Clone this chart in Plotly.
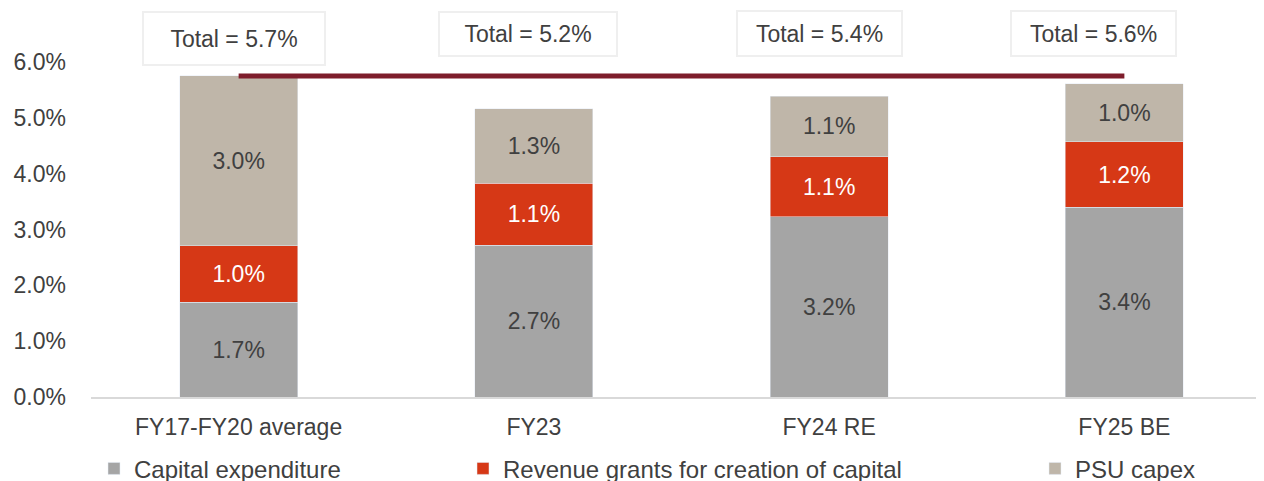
import plotly.graph_objects as go

categories = ["FY17-FY20 average", "FY23", "FY24 RE", "FY25 BE"]
capex = [1.70, 2.72, 3.23, 3.40]
revenue_grants = [1.01, 1.11, 1.07, 1.17]
psu_capex = [3.04, 1.33, 1.09, 1.04]
totals = ["5.7", "5.2", "5.4", "5.6"]
y_ticks = [0, 1, 2, 3, 4, 5, 6]

FONT = "Liberation Sans, Arial, sans-serif"
TEXT = "#404040"
FS = 23

fig = go.Figure()

series = [
    ("Capital expenditure", capex, "#A5A5A5", TEXT, "legend"),
    ("Revenue grants for creation of capital", revenue_grants, "#D63816", "white", "legend2"),
    ("PSU capex", psu_capex, "#BFB6A9", TEXT, "legend3"),
]
for name, vals, color, tcolor, leg in series:
    fig.add_trace(go.Bar(
        x=categories, y=vals, name=name, marker_color=color,
        texttemplate="%{y:.1f}%", textposition="inside", insidetextanchor="middle",
        textfont=dict(size=FS, color=tcolor, family=FONT),
        width=0.4, legend=leg,
    ))

# reference line at first period's total
first_total = capex[0] + revenue_grants[0] + psu_capex[0]
fig.add_shape(type="line", xref="x", yref="y", x0=0, x1=3,
              y0=first_total, y1=first_total,
              line=dict(color="#7E1D2B", width=5), layer="above")

# total boxes: (x, y, width, height)
box_pos = [(-0.014, 1.070, 180, 51), (0.98, 1.0836, 176, 42),
           (1.966, 1.0836, 163, 43), (2.894, 1.0836, 163, 43)]
for t, (bx, by, bw, bh) in zip(totals, box_pos):
    fig.add_annotation(x=bx, y=by, xref="x", yref="paper", text=f"Total = {t}%",
                       showarrow=False, font=dict(size=FS, color=TEXT, family=FONT),
                       bordercolor="#EFEFEF", borderwidth=2, borderpad=0,
                       width=bw, height=bh, bgcolor="white", yanchor="middle")

leg_common = dict(orientation="h", xref="container", yref="container",
                  yanchor="middle", y=0.042, font=dict(size=24, color=TEXT, family=FONT),
                  bgcolor="rgba(0,0,0,0)", itemwidth=30)
fig.update_layout(
    barmode="stack",
    width=1264, height=481,
    margin=dict(l=83, r=0, t=54, b=92, autoexpand=False),
    plot_bgcolor="white", paper_bgcolor="white",
    font=dict(family=FONT, size=FS, color=TEXT),
    showlegend=True,
    legend=dict(x=86 / 1264, **leg_common),
    legend2=dict(x=455 / 1264, **leg_common),
    legend3=dict(x=1027 / 1264, **leg_common),
    xaxis=dict(range=[-0.5, 3.5], showgrid=False, showline=True,
               linecolor="#D9D9D9", linewidth=2, ticks="", ticklabelstandoff=8,
               tickfont=dict(size=FS)),
    yaxis=dict(range=[0, 6], tickvals=y_ticks,
               ticktext=[f"{v:.1f}%" for v in y_ticks], showgrid=False,
               zeroline=False, showline=False, ticks="", ticklabelstandoff=24,
               tickfont=dict(size=FS)),
)

fig.write_html("out.html")
